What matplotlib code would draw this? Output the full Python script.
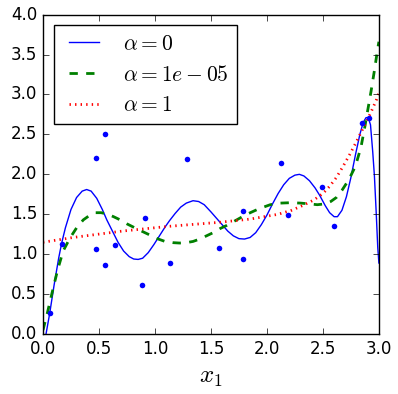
import numpy as np
import matplotlib
matplotlib.use("Agg")
import matplotlib.pyplot as plt

plt.style.use("classic")

# training points
X = [0.06, 0.17, 0.47, 0.55, 0.47, 0.55, 0.64, 0.91, 0.88, 1.13,
     1.29, 1.57, 1.79, 1.79, 2.13, 2.19, 2.49, 2.60, 2.85, 2.91]
y = [0.26, 1.13, 2.21, 2.51, 1.07, 0.87, 1.12, 1.45, 0.62, 0.89,
     2.19, 1.08, 1.54, 0.94, 2.14, 1.49, 1.84, 1.35, 2.64, 2.71]

# model predictions (sampled from the curves)
x_a0 = [0.0, 0.027, 0.06, 0.1, 0.14, 0.167, 0.2, 0.25, 0.30, 0.35, 0.39,
        0.43, 0.48, 0.53, 0.57, 0.62, 0.67, 0.72, 0.77, 0.81, 0.85, 0.89,
        0.94, 0.99, 1.04, 1.09, 1.13, 1.18, 1.23, 1.28, 1.34, 1.39, 1.44,
        1.50, 1.55, 1.60, 1.65, 1.70, 1.75, 1.80, 1.85, 1.90, 1.95, 2.00,
        2.05, 2.10, 2.15, 2.20, 2.25, 2.29, 2.33, 2.38, 2.43, 2.47, 2.52,
        2.56, 2.60, 2.63, 2.67, 2.71, 2.75, 2.79, 2.83, 2.86, 2.885, 2.905,
        2.925, 2.945, 2.96, 2.975, 2.99, 3.0]
y_a0 = [-0.35, 0.0, 0.26, 0.62, 0.95, 1.14, 1.33, 1.56, 1.71, 1.79, 1.81,
        1.79, 1.70, 1.56, 1.43, 1.29, 1.15, 1.04, 0.97, 0.94, 0.935, 0.95,
        1.02, 1.12, 1.23, 1.34, 1.42, 1.51, 1.59, 1.64, 1.67, 1.66, 1.62,
        1.53, 1.45, 1.37, 1.29, 1.23, 1.195, 1.19, 1.21, 1.27, 1.37, 1.49,
        1.63, 1.76, 1.87, 1.95, 1.99, 2.0, 1.98, 1.92, 1.83, 1.74, 1.61,
        1.52, 1.47, 1.47, 1.55, 1.72, 1.96, 2.24, 2.50, 2.65, 2.71, 2.71,
        2.62, 2.28, 1.98, 1.55, 1.08, 0.89]

x_a1 = [0.0, 0.04, 0.08, 0.13, 0.18, 0.24, 0.30, 0.36, 0.42, 0.47, 0.52,
        0.58, 0.63, 0.69, 0.75, 0.85, 0.955, 1.03, 1.09, 1.16, 1.22, 1.28,
        1.34, 1.40, 1.46, 1.52, 1.58, 1.64, 1.73, 1.82, 1.93, 2.03, 2.12,
        2.21, 2.30, 2.38, 2.45, 2.52, 2.57, 2.62, 2.67, 2.73, 2.79, 2.84,
        2.875, 2.91, 2.93, 2.96, 2.99, 3.0]
y_a1 = [0.05, 0.27, 0.51, 0.8, 1.04, 1.2, 1.33, 1.43, 1.49, 1.52, 1.52,
        1.50, 1.47, 1.43, 1.38, 1.31, 1.24, 1.19, 1.16, 1.145, 1.14, 1.145,
        1.16, 1.19, 1.23, 1.27, 1.32, 1.36, 1.43, 1.50, 1.57, 1.62, 1.64,
        1.645, 1.64, 1.63, 1.62, 1.63, 1.66, 1.71, 1.80, 1.93, 2.10, 2.34,
        2.60, 2.88, 3.04, 3.3, 3.58, 3.66]

x_a2 = [0.0, 0.27, 0.71, 1.13, 1.58, 1.85, 2.1, 2.22, 2.32, 2.42, 2.5,
        2.56, 2.62, 2.68, 2.74, 2.80, 2.86, 2.93, 2.98, 3.0]
y_a2 = [1.15, 1.21, 1.29, 1.35, 1.40, 1.44, 1.50, 1.55, 1.61, 1.68, 1.76,
        1.85, 1.96, 2.10, 2.25, 2.41, 2.58, 2.78, 2.94, 3.02]

fig = plt.figure(figsize=(3.98, 3.94), dpi=100, facecolor="white")
ax = fig.add_axes([0.108, 0.152, 0.844, 0.811])

ax.plot(x_a0, y_a0, "b-", linewidth=1, label=r"$\alpha = 0$")
ax.plot(x_a1, y_a1, "g--", linewidth=2, label=r"$\alpha = 1e-05$")
ax.plot(x_a2, y_a2, "r:", linewidth=2, label=r"$\alpha = 1$")
ax.plot(X, y, "b.", markersize=8, markeredgewidth=0)

ax.legend(loc="upper left", fontsize=15.5)
ax.set_xlabel("$x_1$", fontsize=18)
ax.axis([0, 3, 0, 4])

fig.savefig("out.png", dpi=100, facecolor="white")
